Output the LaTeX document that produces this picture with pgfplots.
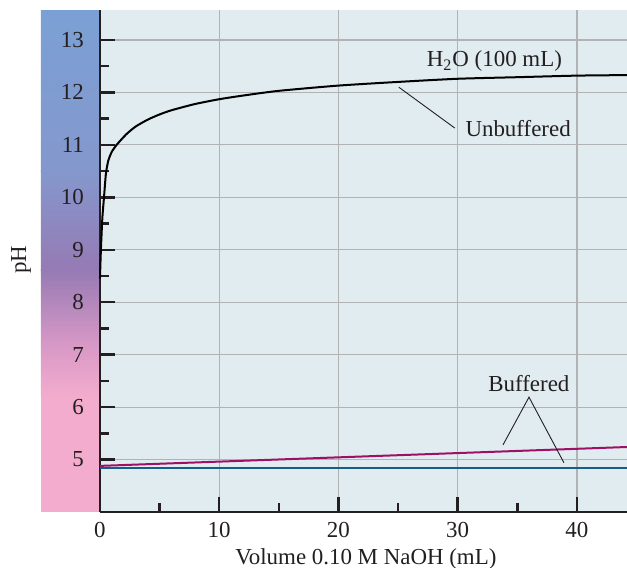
\documentclass[border=0pt]{standalone}
\usepackage{fontspec}
\setmainfont{Liberation Serif}
\usepackage{pgfplots}
\pgfplotsset{compat=1.18}
\definecolor{bgc}{RGB}{224,236,240}
\definecolor{gridc}{RGB}{176,178,180}
\definecolor{axc}{RGB}{35,31,32}
\definecolor{magc}{RGB}{158,16,102}
\definecolor{bluc}{RGB}{24,92,138}
\definecolor{s1}{RGB}{123,160,213}
\definecolor{s2}{RGB}{132,152,205}
\definecolor{s3}{RGB}{150,122,180}
\definecolor{s4}{RGB}{215,152,198}
\definecolor{s5}{RGB}{243,172,205}
\newcommand\lf{\fontsize{11.5}{13}\selectfont}
\begin{document}
\begin{tikzpicture}
\begin{axis}[
  set layers=standard,
  scale only axis, width=263.5bp, height=251bp,
  xmin=0, xmax=44.2, ymin=4, ymax=13.571,
  axis x line*=bottom, axis y line*=left,
  axis line style={line width=1.1bp, color=axc},
  axis background/.style={fill=bgc},
  xtick={0,10,20,30,40}, minor xtick={5,15,25,35},
  ytick={5,6,...,13}, minor ytick={5.5,6.5,...,12.5},
  tick align=inside,
  major tick length=7.5bp, minor tick length=4.5bp,
  every tick/.style={line width=1.2bp, color=axc},
  grid=major,
  major grid style={line width=0.6bp, color=gridc},
  clip=false,
  tick label style={font=\lf, text=axc},
  /pgf/number format/assume math mode=true,
  yticklabel style={xshift=-4.5bp},
  xticklabel style={yshift=-1.5bp},
]
\begin{pgfonlayer}{axis background}
\fill[s5] (axis cs:-4.95,4) rectangle (axis cs:0,6.22);
\fill[bottom color=s5, top color=s4] (axis cs:-4.95,6.2) rectangle (axis cs:0,7.22);
\fill[bottom color=s4, top color=s3] (axis cs:-4.95,7.2) rectangle (axis cs:0,8.62);
\fill[bottom color=s3, top color=s2] (axis cs:-4.95,8.6) rectangle (axis cs:0,10.52);
\fill[bottom color=s2, top color=s1] (axis cs:-4.95,10.5) rectangle (axis cs:0,13.571);
\end{pgfonlayer}

\addplot[black, line width=1bp, smooth, tension=0.4] coordinates {
(0,8.45) (0.08,9.0) (0.2,9.6) (0.34,10.0) (0.5,10.45) (0.7,10.7) (1.0,10.87)
(1.4,11.0) (2.2,11.2) (3,11.35) (4,11.48) (5,11.58) (6,11.66) (8,11.78)
(10,11.87) (12,11.94) (15,12.03) (20,12.13) (25,12.20) (30,12.26) (35,12.29)
(40,12.32) (44.2,12.33)};
\addplot[magc, line width=1bp] coordinates {(0,4.88) (44.2,5.24)};
\addplot[bluc, line width=1bp] coordinates {(0,4.845) (44.2,4.845)};

\node[font=\lf, text=axc, anchor=base] at (axis cs:33.08,12.49) {H\textsubscript{2}O (100 mL)};
\node[font=\lf, text=axc, anchor=base] at (axis cs:35.07,11.16) {Unbuffered};
\node[font=\lf, text=axc, anchor=base] at (axis cs:35.97,6.29) {Buffered};
\draw[line width=0.45bp, axc] (axis cs:25.06,12.10) -- (axis cs:29.76,11.32);
\draw[line width=0.45bp, axc] (axis cs:33.80,5.28) -- (axis cs:35.98,6.19) -- (axis cs:38.91,4.94);

\node[font=\lf, text=axc, anchor=base] at (axis cs:22.3,3.0) {Volume 0.10 M NaOH (mL)};
\node[font=\lf, text=axc, rotate=90] at (axis cs:-6.62,8.81) {pH};

\coordinate (bbl) at (axis cs:-8.382,2.943);
\coordinate (btr) at (axis cs:44.2,13.762);
\end{axis}
\pgfresetboundingbox
\useasboundingbox (bbl) rectangle (btr);
\end{tikzpicture}
\end{document}
